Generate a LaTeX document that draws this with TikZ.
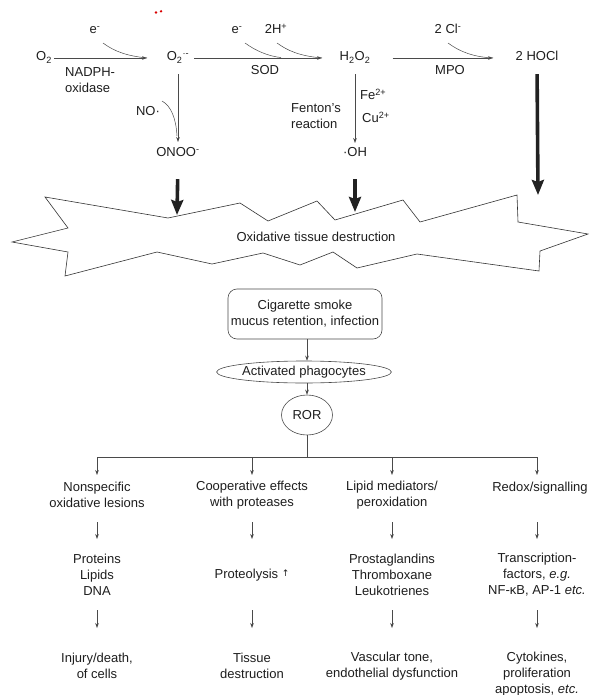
\documentclass[tikz,border=0pt]{standalone}
\usepackage{fontspec}
\setmainfont{Liberation Sans}
\newfontfamily\dejavu{DejaVu Sans}
\usetikzlibrary{arrows.meta,shapes.geometric,calc}
\definecolor{textc}{HTML}{1E1E1E}
\definecolor{linec}{HTML}{4A4A4A}
\definecolor{thickc}{HTML}{222222}
\begin{document}
\begin{tikzpicture}[x=1pt,y=-1pt,
  txt/.style={text=textc,font=\fontsize{13}{16}\selectfont,inner sep=0pt,align=center},
  top/.style={txt,text height=9pt,text depth=3pt},
  thinarr/.style={draw=linec,line width=0.6pt,-{Stealth[length=5pt,width=3.6pt]}},
  thinline/.style={draw=linec,line width=0.6pt},
  curvel/.style={draw=linec,line width=0.5pt},
  thickarr/.style={draw=thickc,line width=3.6pt,-{Stealth[length=15pt,width=12pt,inset=2pt]}},
  starshape/.style={draw=black!80,line width=0.6pt,fill=white},
  boxn/.style={txt,draw=linec,line width=0.6pt,rounded corners=9pt,minimum width=154pt,minimum height=50pt},
  elln/.style={txt,draw=linec,line width=0.6pt,ellipse,inner sep=0pt,minimum width=130pt,minimum height=22pt},
  rorn/.style={txt,draw=linec,line width=0.6pt,ellipse,inner sep=0pt,minimum width=51pt,minimum height=40pt}
]
\useasboundingbox (0,0) rectangle (589,695);
\fill[white] (0,0) rectangle (589,695);

% red dots
\fill[red!85!black] (156,12.5) circle (1.3);
\fill[red!85!black] (161,11.3) circle (1.3);

% ---------- top reaction row ----------
\node[top] (o2) at (44,58) {O\textsubscript{2}};
\node[top] (o2m) at (178,58) {O\textsubscript{2}\textsuperscript{·-}};
\node[top] (h2o2) at (355,58) {H\textsubscript{2}O\textsubscript{2}};
\node[top] (hocl) at (537,58) {2 HOCl};

\node[top] (e1) at (95,31) {e\textsuperscript{-}};
\node[top] (e2) at (237,31) {e\textsuperscript{-}};
\node[top] (hp) at (276,31) {2H\textsuperscript{+}};
\node[top] (cl) at (448,31) {2 Cl\textsuperscript{-}};

\node[txt,align=left,anchor=west] (nadph) at (65,80) {NADPH-\\oxidase};
\node[top] (sod) at (265,72) {SOD};
\node[top] (mpo) at (450,72) {MPO};

\coordinate (t1) at (147,58);
\coordinate (t2) at (322,58);
\coordinate (t3) at (493,58);
\coordinate (m2) at (281,57.6);

\draw[thinarr] ($(o2.east)+(2,0)$) -- (t1);
\draw[thinarr] ($(o2m.east)+(5,0)$) -- (t2);
\draw[thinarr] ($(h2o2.east)+(22,0)$) -- (t3);

\draw[curvel] (103,43) .. controls (115,52) and (128,56) .. (t1);
\draw[curvel] (245,43) .. controls (256,51) and (268,56) .. (m2);
\draw[curvel] (277,43) .. controls (288,51) and (300,56) .. (t2);
\draw[curvel] (448,43) .. controls (460,52) and (474,57) .. (t3);

% vertical: O2- -> ONOO-
\node[top] (no) at (148,113) {NO·};
\node[top] (onoo) at (178,154) {ONOO\textsuperscript{-}};
\coordinate (t4) at (178,142);
\draw[thinarr] ($(o2m.south)+(0,10)$) -- (t4);
\draw[curvel] (162,101) .. controls (171,106) and (176,118) .. (177,136);

% vertical: H2O2 -> OH
\node[txt,align=left,anchor=west] (fenton) at (291,116) {Fenton's\\reaction};
\node[top,anchor=west] (fe) at (360,97) {Fe\textsuperscript{2+}};
\node[top,anchor=west] (cu) at (362,120) {Cu\textsuperscript{2+}};
\node[top] (oh) at (355,154) {·OH};
\coordinate (t5) at (355,143);
\draw[thinarr] ($(h2o2.south)+(0,10)$) -- (t5);

% ---------- star ----------
\draw[starshape] (45,197) -- (168,218) -- (240,203) -- (268,221) -- (317,201) -- (335,220)
  -- (403,200) -- (420,222) -- (517,195) -- (518,222) -- (588,234) -- (540,251)
  -- (539,271) -- (417,254) -- (357,268) -- (333,252) -- (300,265) -- (263,253)
  -- (212,264) -- (157,252) -- (65,276) -- (68,252) -- (12,242) -- (68,228) -- cycle;
\node[txt] (otd) at (316,237) {Oxidative tissue destruction};

\coordinate (a1) at (177,215);
\coordinate (a2) at (355,212);
\coordinate (a3) at (538,195);
\draw[thickarr,shorten <=19pt] (onoo.south) -- (a1);
\draw[thickarr,shorten <=19pt] (oh.south) -- (a2);
\draw[thickarr,shorten <=10pt] (hocl.south) -- (a3);

% ---------- lower flowchart ----------
\node[boxn] (cig) at (305,314) {Cigarette smoke\\mucus retention, infection};
\node[elln] (phag) at (304,372) {Activated phagocytes};
\node[rorn] (ror) at (307,415) {ROR};
\draw[thinarr] (cig.south -| ror) -- (phag.north -| ror);
\draw[thinarr] (phag.south -| ror) -- (ror.north);

\coordinate (j) at (307,457);
\coordinate (b1) at (97,457);
\coordinate (b2) at (252,457);
\coordinate (b3) at (392,457);
\coordinate (b4) at (537,457);
\draw[thinline] (ror.south) -- (j);
\draw[thinline] (b1) -- (b4);

\node[txt] (r1c1) at (97,495) {Nonspecific\\oxidative lesions};
\node[txt] (r1c2) at (252,495) {Cooperative effects\\with proteases};
\node[txt] (r1c3) at (392,495) {Lipid mediators/\\peroxidation};
\node[txt] (r1c4) at (540,488) {Redox/signalling};

\node[txt] (r2c1) at (97,575) {Proteins\\Lipids\\DNA};
\node[txt] (r2c2) at (252,575) {Proteolysis {\dejavu\fontsize{9}{9}\selectfont\raisebox{2pt}{↑}}};
\node[txt] (r2c3) at (392,575) {Prostaglandins\\Thromboxane\\Leukotrienes};
\node[txt] (r2c4) at (537,575) {Transcription-\\factors, \textit{e.g.}\\NF-κB, AP-1 \textit{etc.}};

\node[txt] (r3c1) at (97,666) {Injury/death,\\of cells};
\node[txt] (r3c2) at (252,666) {Tissue\\destruction};
\node[txt] (r3c3) at (392,666) {Vascular tone,\\endothelial dysfunction};
\node[txt] (r3c4) at (537,674) {Cytokines,\\proliferation\\apoptosis, \textit{etc.}};

\foreach \c in {1,2,3,4}{
  \draw[thinarr] (b\c) -- ($(b\c)+(0,18)$);
  \draw[thinarr] ($(b\c)+(0,65)$) -- ($(b\c)+(0,82)$);
  \draw[thinarr] ($(b\c)+(0,153)$) -- ($(b\c)+(0,171)$);
}
\end{tikzpicture}
\end{document}
